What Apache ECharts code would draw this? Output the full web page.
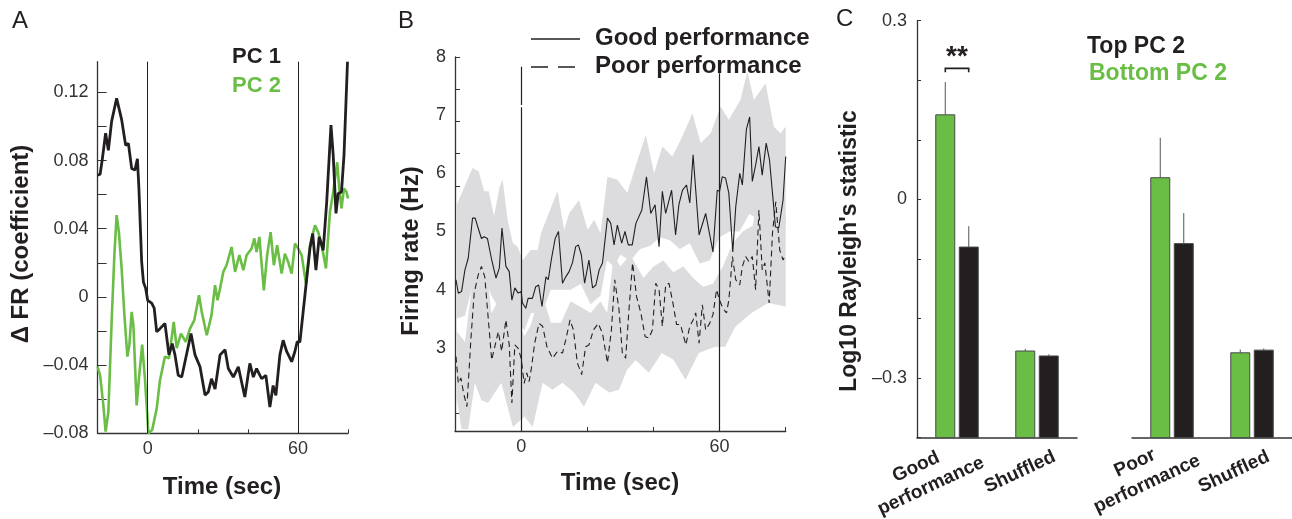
<!DOCTYPE html>
<html>
<head>
<meta charset="utf-8">
<script src="https://cdn.jsdelivr.net/npm/echarts@6/dist/echarts.min.js"></script>
<style>
html,body{margin:0;padding:0;background:#fff;}
#chart{width:1292px;height:519px;}
</style>
</head>
<body>
<div id="chart"></div>
<script>
// ---------------- DATA ----------------
// Panel A: PC coefficient time courses [time (s), ΔFR coefficient]
const pc1 = [[-20,0.0714],[-19,0.072],[-18.1,0.081],[-16.8,0.096],[-15.7,0.086],[-14.4,0.103],[-13.7,0.104],[-12.4,0.1165],[-10.4,0.104],[-8.8,0.089],[-7.7,0.090],[-6.4,0.0754],[-5.1,0.0744],[-4.1,0.081],[-3.5,0.0636],[-2.4,0.0205],[-1.7,0.0088],[-0.8,0.005],[0,-0.002],[1.6,-0.0037],[2.6,-0.0066],[3.6,-0.0205],[4.9,-0.0186],[6.9,-0.0156],[8.5,-0.034],[9.8,-0.0274],[10.9,-0.034],[12.2,-0.046],[13.6,-0.047],[14.9,-0.038],[17.3,-0.0215],[18.9,-0.034],[20.9,-0.041],[22.9,-0.0576],[24.2,-0.0558],[25.5,-0.048],[26.9,-0.054],[28.9,-0.034],[30.9,-0.031],[32.2,-0.042],[34.2,-0.047],[36.2,-0.041],[38.8,-0.0587],[40.8,-0.039],[42.2,-0.047],[43.5,-0.042],[45.5,-0.048],[47.2,-0.046],[48.8,-0.0646],[50.1,-0.052],[51.2,-0.0577],[52.8,-0.034],[54.1,-0.0254],[55.5,-0.032],[57.5,-0.038],[58.8,-0.032],[59.7,-0.0264],[60.8,-0.0264],[62.8,0.001],[64.8,0.0284],[65.9,0.0372],[67.2,0.0157],[68.5,0.0352],[70.1,0.0274],[71.5,0.0558],[73.2,0.1008],[74.1,0.083],[75.2,0.049],[76.1,0.0607],[77.4,0.0616],[78.4,0.083],[79.8,0.138]];
const pc2 = [[-20,-0.041],[-19,-0.046],[-17.7,-0.0636],[-16.8,-0.079],[-15.7,-0.0675],[-14.4,-0.0147],[-13.3,0.0245],[-12.4,0.048],[-11.5,0.038],[-10.4,0.0167],[-9.3,-0.0107],[-8.1,-0.035],[-7.3,-0.028],[-6.4,-0.0088],[-5.7,-0.0166],[-4.4,-0.0636],[-3.5,-0.048],[-2.2,-0.028],[-1.1,-0.048],[0.3,-0.080],[1.8,-0.078],[3.6,-0.0655],[4.9,-0.049],[6.9,-0.035],[8.5,-0.036],[10.4,-0.0147],[11.6,-0.030],[13.3,-0.0215],[15.2,-0.0264],[16.9,-0.0186],[18.6,-0.0137],[20.5,0.001],[21.6,-0.0088],[23.6,-0.0225],[25.5,-0.0107],[26.9,0.0069],[27.9,-0.002],[28.9,0.005],[30.2,0.0147],[31.5,0.0186],[33.5,0.0293],[34.9,0.0147],[36.6,0.0245],[38.2,0.0157],[39.5,0.0245],[41.5,0.0284],[42.6,0.0343],[43.5,0.0264],[44.6,0.0352],[46.4,0.0039],[47.7,0.0245],[49.1,0.038],[50.4,0.0186],[51.7,0.0303],[53.5,0.0137],[54.8,0.0254],[56.1,0.0205],[57.5,0.0137],[58.8,0.0313],[59.7,0.0293],[61.5,0.0245],[63.2,0.0079],[64.8,0.0303],[66.8,0.042],[68.1,0.038],[69.5,0.0303],[71.2,0.0167],[72.8,0.05],[74.1,0.0616],[75.7,0.079],[76.5,0.0636],[77.4,0.0519],[78.4,0.0636],[79.4,0.0616],[80,0.0577]];
const aYLabels = [-0.08,-0.04,0,0.04,0.08,0.12];
const aYTicks = [-0.08,-0.06,-0.04,-0.02,0,0.02,0.04,0.06,0.08,0.1,0.12];
const timeLabels = [0,60];

// Panel B: firing rate [time (s), Hz]
const goodPerf = [[-19.7,4.17],[-19,3.94],[-18,3.97],[-17,4.34],[-16,4.54],[-14.7,5.23],[-13.9,5.23],[-13,5.06],[-12,4.88],[-11.2,4.91],[-10.2,4.88],[-8.9,4.51],[-7.6,4.20],[-6.6,4.37],[-5.8,5.06],[-4.6,4.40],[-3.6,4.31],[-2.8,3.82],[-1.9,4.03],[-0.9,3.94],[0,3.97],[0.4,3.77],[1.4,3.68],[2.1,3.85],[3.4,3.85],[4.4,4.05],[5.3,4.08],[6.3,3.71],[7.5,4.22],[8.2,4.17],[9.2,4.54],[10.3,4.88],[11.3,5.0],[12.5,4.11],[13.5,4.22],[14.5,4.31],[15.5,4.46],[16.5,4.74],[17.3,4.77],[18.2,4.60],[19.2,4.11],[20.5,4.51],[21.6,4.03],[22.6,4.08],[23.6,4.34],[24.6,4.46],[26.1,5.23],[27.1,5.14],[28.1,4.77],[29.1,5.11],[30.4,4.80],[31.4,5.0],[32.4,4.77],[33.6,4.77],[34.7,5.14],[36.5,5.37],[37.9,5.94],[39.2,5.31],[40.5,5.46],[41.7,4.74],[42.7,5.69],[43.7,5.31],[45.5,5.71],[46.7,4.94],[47.7,5.46],[48.8,5.71],[50,5.80],[51,5.49],[52,6.32],[53.8,4.94],[55.8,5.31],[58,4.65],[59.3,5.71],[60,5.69],[60.8,5.94],[61.8,5.92],[62.8,5.66],[64,4.65],[64.9,5.43],[66.1,6.0],[66.9,5.80],[68.1,6.75],[69.1,6.97],[69.9,5.86],[70.9,6.14],[71.9,6.46],[72.9,5.97],[74.1,6.52],[75.1,6.23],[76.1,5.60],[76.9,5.08],[77.9,5.06],[79.2,5.54],[80,6.29]];
const poorPerf = [[-19.7,2.85],[-19,2.39],[-18.2,2.48],[-17.4,2.22],[-16.4,1.99],[-15.2,3.14],[-14.2,3.94],[-13,4.25],[-12,4.40],[-11,4.22],[-10,3.54],[-8.9,2.79],[-7.6,3.11],[-6.9,3.28],[-5.9,2.94],[-4.6,3.48],[-3.6,3.05],[-2.8,2.05],[-1.9,3.05],[-0.9,2.99],[0,2.82],[0.9,2.39],[1.7,2.57],[2.4,2.42],[3.1,2.65],[4.1,3.08],[5.4,3.42],[6.5,3.37],[7.8,3.02],[9.5,2.82],[11,2.94],[12.5,2.91],[13.5,3.14],[14.8,3.48],[15.8,3.31],[17,2.74],[18.3,2.54],[19.5,3.02],[20.5,3.05],[21.9,3.31],[23.3,3.42],[24.6,3.25],[26.1,2.74],[27.3,3.31],[28.3,4.17],[29.6,3.65],[30.6,2.91],[31.6,2.82],[32.6,3.65],[33.7,4.46],[34.9,3.88],[36.2,3.60],[37.5,3.19],[38.7,3.17],[39.7,3.31],[40.7,4.11],[41.7,4.0],[42.7,3.37],[43.7,4.08],[44.7,4.11],[45.9,3.77],[47,3.40],[48.2,3.40],[49.8,3.05],[51,3.37],[52,3.48],[52.8,3.60],[53.8,3.08],[54.8,3.74],[55.8,3.31],[57,3.42],[58,3.57],[59.1,4.0],[60,3.82],[61,3.68],[62.1,3.60],[62.8,3.82],[63.9,4.57],[64.9,4.17],[66.1,4.08],[66.9,4.40],[67.9,4.57],[68.9,4.48],[69.9,4.57],[70.9,4.0],[71.9,5.37],[72.9,4.34],[73.7,4.46],[75,3.77],[76,4.97],[77,5.51],[78.2,4.68],[79.2,4.51],[80,4.60]];
const goodUpper = [[-19.7,5.43],[-14.7,6.09],[-12.8,6.03],[-11.2,5.69],[-9.8,5.69],[-8.2,5.26],[-6.5,5.77],[-5.6,5.89],[-4.1,5.2],[-2.5,4.8],[-1.1,4.74],[0.5,4.51],[2.9,4.68],[5,4.68],[6,4.97],[8,5.26],[11,5.69],[13,5.03],[14.5,5.31],[17.5,5.54],[20.1,5.03],[22.1,5.2],[24,4.97],[26.1,5.94],[29.1,5.89],[32.1,5.66],[35.2,6.23],[37.7,6.66],[40.2,6.0],[42.7,6.46],[45.7,6.29],[48.2,6.57],[51.8,7.03],[54.3,6.52],[57.3,6.69],[60.3,7.15],[62.8,6.92],[66.3,7.26],[68.4,7.75],[70.4,7.26],[73.9,7.55],[76.4,6.8],[78.4,6.69],[80,6.8]];
const goodLower = [[-19.7,3.5],[-17,3.55],[-15,4.0],[-13,4.3],[-11,4.2],[-9,3.9],[-7,3.7],[-5,3.8],[-3,3.5],[-1,3.4],[1,3.3],[3,3.6],[5,3.6],[7,3.7],[9,4.0],[12,4.0],[15,4.0],[18,4.1],[21,3.75],[24,3.9],[26,4.5],[28,4.4],[30,4.6],[33,4.5],[36,4.7],[39,4.75],[42,4.9],[45,4.85],[48,4.7],[51,4.8],[54,4.45],[57,4.5],[60,4.9],[63,5.0],[66,5.0],[69,5.3],[72,5.2],[75,5.0],[77,4.6],[80,5.1]];
const poorUpper = [[-19.7,3.3],[-17,3.1],[-15,4.0],[-13,4.7],[-11,4.7],[-9,3.6],[-7,3.8],[-5,3.9],[-3,3.5],[-1,3.5],[1,3.2],[3,3.4],[5,3.8],[7,3.8],[9,3.43],[12,3.43],[15,3.8],[18,3.7],[21,3.6],[24,3.8],[26,3.6],[28,4.6],[30,4.4],[33,4.6],[35,4.4],[37,4.2],[40,4.4],[43,4.5],[46,4.3],[49,4.4],[52,4.2],[55,4.05],[58,4.1],[61,4.4],[64,4.8],[67,5.0],[70,5.1],[72,5.7],[74,5.4],[77,5.8],[80,5.3]];
const poorLower = [[-19.7,2.2],[-18,1.6],[-16,1.6],[-14,2.4],[-12,2.1],[-10,2.05],[-6,2.4],[-2.5,1.64],[1,1.82],[3.5,1.64],[6.5,2.4],[9.5,2.28],[12.5,2.4],[16,2.23],[19,1.99],[22.5,2.4],[26.6,2.23],[29.6,2.28],[32,2.62],[34.6,2.79],[38.6,2.57],[42.5,2.91],[46,2.8],[49.7,2.45],[53.7,2.91],[58.7,3.02],[61.7,3.02],[64.7,3.36],[69.6,3.6],[74.7,3.77],[80,3.71]];
const bYLabels = [3,4,5,6,7,8];
const bYTicks = [1.87,3.0,3.55,4.12,4.67,5.23,5.78,6.35,6.9,7.45,8.0];

// Panel C: Log10 Rayleigh's statistic
const catsGood = ['Good performance','Shuffled'];
const catsPoor = ['Poor performance','Shuffled'];
const bottomPC2Good = [0.142,-0.2545];
const bottomPC2GoodErr = [0.197,-0.2508];
const topPC2Good = [-0.080,-0.2628];
const topPC2GoodErr = [-0.045,-0.260];
const bottomPC2Poor = [0.0364,-0.2575];
const bottomPC2PoorErr = [0.1034,-0.252];
const topPC2Poor = [-0.0742,-0.253];
const topPC2PoorErr = [-0.023,-0.2503];
const cYLabels = [-0.3,0,0.3];
const cYTicks = [-0.4,-0.3,-0.2,-0.1,0,0.1,0.2,0.3];
const sigLevel = 0.22;

// ---------------- STYLE ----------------
const FONT = '"Liberation Sans", Arial, Helvetica, sans-serif';
const INK = '#231f20';
const AX = '#333333';
const GREEN = '#6abd45';
const BAND = '#dcdcde';
const C_MIN = -0.4, C_MAX = 0.3;

const chart = echarts.init(document.getElementById('chart'), null, {renderer:'canvas'});

function signed(v, d){
  if (Math.abs(v) < 1e-9) return '0';
  return (v < 0 ? '\u2013' : '') + Math.abs(v).toFixed(d);
}
function timeAxis(gi){
  return {type:'value', gridIndex:gi, min:-20, max:80, interval:20,
    axisLine:{onZero:false, lineStyle:{color:AX, width:1.3}},
    axisTick:{inside:true, length:4, lineStyle:{color:AX, width:1}},
    axisLabel:{customValues:timeLabels, fontFamily:FONT, fontSize:18, color:AX, margin:7},
    splitLine:{show:false}};
}
function catAxis(gi, cats){
  return {type:'category', gridIndex:gi, data:cats,
    axisLine:{onZero:false, lineStyle:{color:AX, width:1.5}},
    axisTick:{show:false}, axisLabel:{show:false}, splitLine:{show:false}};
}
function bandRender(upper, lower){
  return function(params, api){
    const pts = upper.map(d => api.coord(d)).concat(lower.slice().reverse().map(d => api.coord(d)));
    return {type:'polygon', shape:{points:pts}, style:{fill:BAND}};
  };
}
function barRender(offset, color){
  return function(params, api){
    const cat = api.value(0), val = api.value(1), err = api.value(2);
    const top = api.coord([cat, val]);
    const base = api.coord([cat, C_MIN]);
    const e = api.coord([cat, err]);
    const cx = top[0] + offset;
    return {type:'group', children:[
      {type:'rect', shape:{x:cx-9.5, y:top[1], width:19, height:base[1]-top[1]},
        style:{fill:color, stroke:'#4a4a4a', lineWidth:1}},
      {type:'line', shape:{x1:cx, y1:top[1], x2:cx, y2:e[1]},
        style:{stroke:'#555', lineWidth:1}}
    ]};
  };
}
function barData(vals, errs){ return vals.map((v,i)=>[i, v, errs[i]]); }

const rad = d => d*Math.PI/180;
function txt(text, x, y, opt){
  opt = opt || {};
  return {type:'text', x:x, y:y, rotation:rad(opt.rot||0), silent:true, z:100,
    style:{text:text, fill:opt.color||INK, font:(opt.weight||'bold')+' '+(opt.size||23)+'px '+FONT,
      textAlign:opt.align||'center', textVerticalAlign:'middle'}};
}

const option = {
  animation:false,
  backgroundColor:'#ffffff',
  grid:[
    {left:97.6, top:61.7, width:250.4, height:371.6},
    {left:455, top:57, width:330.7, height:374},
    {left:917, top:20.7, width:160, height:417},
    {left:1132, top:20.7, width:160, height:417}
  ],
  xAxis:[ timeAxis(0), timeAxis(1), catAxis(2, catsGood), catAxis(3, catsPoor) ],
  yAxis:[
    {type:'value', gridIndex:0, min:-0.08, max:0.138,
      axisLine:{show:true, onZero:false, lineStyle:{color:AX, width:1.3}},
      axisTick:{show:true, inside:true, length:9, customValues:aYTicks, lineStyle:{color:AX}},
      axisLabel:{customValues:aYLabels, formatter:v=>signed(v,2), fontFamily:FONT, fontSize:18, color:AX, margin:9},
      splitLine:{show:false}},
    {type:'value', gridIndex:1, min:1.57, max:8,
      axisLine:{show:true, onZero:false, lineStyle:{color:AX, width:1.3}},
      axisTick:{show:true, inside:true, length:5, customValues:bYTicks, lineStyle:{color:AX}},
      axisLabel:{customValues:bYLabels, fontFamily:FONT, fontSize:18, color:AX, margin:9},
      splitLine:{show:false}},
    {type:'value', gridIndex:2, min:C_MIN, max:C_MAX,
      axisLine:{show:true, onZero:false, lineStyle:{color:AX, width:1.3}},
      axisTick:{show:true, inside:true, length:4, customValues:cYTicks, lineStyle:{color:AX}},
      axisLabel:{customValues:cYLabels, formatter:v=>signed(v,1), fontFamily:FONT, fontSize:18, color:AX, margin:10},
      splitLine:{show:false}},
    {type:'value', gridIndex:3, min:C_MIN, max:C_MAX, show:false, splitLine:{show:false}}
  ],
  series:[
    // Panel A
    {type:'line', name:'PC 2', xAxisIndex:0, yAxisIndex:0, data:pc2, showSymbol:false, z:3,
      lineStyle:{color:GREEN, width:2.6}, itemStyle:{color:GREEN}},
    {type:'line', name:'PC 1', xAxisIndex:0, yAxisIndex:0, data:pc1, showSymbol:false, z:4,
      lineStyle:{color:INK, width:2.8}, itemStyle:{color:INK},
      markLine:{symbol:'none', silent:true, label:{show:false},
        lineStyle:{color:INK, width:1, type:'solid'},
        data:[{xAxis:0},{xAxis:60}]}},
    // Panel B bands
    {type:'custom', xAxisIndex:1, yAxisIndex:1, data:[0], clip:true, silent:true, z:1,
      renderItem:bandRender(goodUpper, goodLower)},
    {type:'custom', xAxisIndex:1, yAxisIndex:1, data:[0], clip:true, silent:true, z:1,
      renderItem:bandRender(poorUpper, poorLower)},
    // Panel B lines
    {type:'line', name:'Good performance', xAxisIndex:1, yAxisIndex:1, data:goodPerf, showSymbol:false, z:5,
      lineStyle:{color:INK, width:1.1}, itemStyle:{color:INK},
      markLine:{symbol:'none', silent:true, label:{show:false},
        lineStyle:{color:INK, width:1.2, type:'solid'},
        data:[
          [{coord:[0,1.57]},{coord:[0,7.136]}],
          [{coord:[0,7.175]},{coord:[0,7.833]}],
          [{coord:[60,1.57]},{coord:[60,7.72]}]
        ]}},
    {type:'line', name:'Poor performance', xAxisIndex:1, yAxisIndex:1, data:poorPerf, showSymbol:false, z:5,
      lineStyle:{color:INK, width:1.1, type:[6,4]}, itemStyle:{color:INK}},
    // Panel C bars
    {type:'custom', name:'Bottom PC 2', xAxisIndex:2, yAxisIndex:2, encode:{x:0,y:1},
      data:barData(bottomPC2Good, bottomPC2GoodErr), renderItem:barRender(-11.75, GREEN)},
    {type:'custom', name:'Top PC 2', xAxisIndex:2, yAxisIndex:2, encode:{x:0,y:1},
      data:barData(topPC2Good, topPC2GoodErr), renderItem:barRender(11.75, INK)},
    {type:'custom', name:'Bottom PC 2', xAxisIndex:3, yAxisIndex:3, encode:{x:0,y:1},
      data:barData(bottomPC2Poor, bottomPC2PoorErr), renderItem:barRender(-11.75, GREEN)},
    {type:'custom', name:'Top PC 2', xAxisIndex:3, yAxisIndex:3, encode:{x:0,y:1},
      data:barData(topPC2Poor, topPC2PoorErr), renderItem:barRender(11.75, INK)},
    // significance bracket
    {type:'custom', xAxisIndex:2, yAxisIndex:2, encode:{x:0,y:1}, data:[[0, sigLevel]], silent:true, z:6,
      renderItem:function(params, api){
        const c = api.coord([api.value(0), api.value(1)]);
        return {type:'group', children:[
          {type:'polyline', shape:{points:[[c[0]-11.7,c[1]+3.8],[c[0]-11.7,c[1]],[c[0]+11.7,c[1]],[c[0]+11.7,c[1]+3.8]]},
            style:{stroke:INK, lineWidth:1.6, fill:null}},
          {type:'text', x:c[0], y:c[1]-11, style:{text:'**', fill:INK, font:'bold 28px '+FONT,
            textAlign:'center', textVerticalAlign:'middle'}}
        ]};
      }}
  ],
  graphic:[
    txt('A', 12, 21, {weight:'normal', size:24, align:'left'}),
    txt('B', 398, 21, {weight:'normal', size:24, align:'left'}),
    txt('C', 836, 19, {weight:'normal', size:24, align:'left'}),
    txt('PC 1', 232, 57, {size:22, align:'left'}),
    txt('PC 2', 232, 86, {size:22, align:'left', color:GREEN}),
    txt('\u0394 FR (coefficient)', 21, 244, {rot:90, size:24}),
    txt('Time (sec)', 222, 487, {size:24}),
    txt('Firing rate (Hz)', 411, 251, {rot:90, size:24}),
    txt('Time (sec)', 620, 483, {size:24}),
    {type:'line', silent:true, shape:{x1:531, y1:39, x2:580, y2:39}, style:{stroke:INK, lineWidth:1.3}},
    {type:'line', silent:true, shape:{x1:531, y1:67, x2:580, y2:67}, style:{stroke:INK, lineWidth:1.3, lineDash:[17,10]}},
    txt('Good performance', 595, 38, {align:'left', size:24}),
    txt('Poor performance', 595, 66, {align:'left', size:24}),
    txt('Log10 Rayleigh\'s statistic', 850, 251, {rot:90}),
    txt('Top PC 2', 1087, 47, {align:'left'}),
    txt('Bottom PC 2', 1089, 74, {align:'left', color:GREEN}),
    txt('Good', 916, 467, {size:19, rot:25}),
    txt('performance', 931, 486, {size:19, rot:25}),
    txt('Shuffled', 1020, 472, {size:19, rot:25}),
    txt('Poor', 1135, 463, {size:19, rot:25}),
    txt('performance', 1147, 484, {size:19, rot:25}),
    txt('Shuffled', 1234, 472, {size:19, rot:25})
  ]
};
chart.setOption(option);
</script>
</body>
</html>
